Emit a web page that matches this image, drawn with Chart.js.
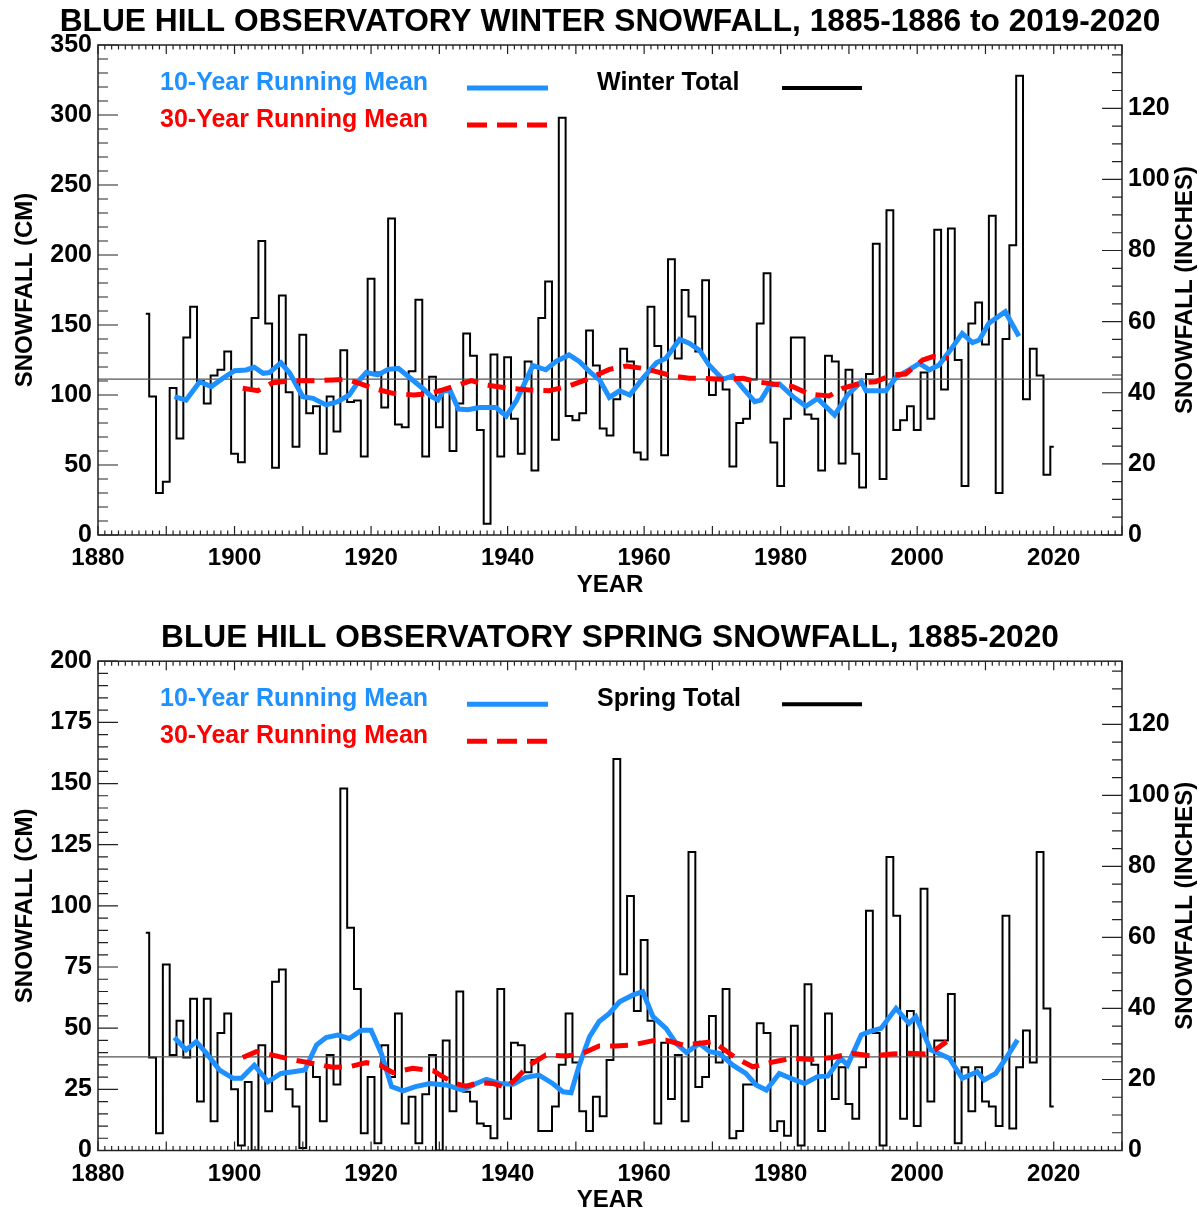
<!DOCTYPE html>
<html>
<head>
<meta charset="utf-8">
<script src="https://cdn.jsdelivr.net/npm/chart.js@4.4.0/dist/chart.umd.min.js"></script>
<style>
html,body{margin:0;padding:0;background:#fff;}
#wrap{position:relative;width:1200px;height:1213px;overflow:hidden;}
.panel{position:absolute;left:0;width:1220px;}
canvas{display:block;}
</style>
</head>
<body>
<div id="wrap">
  <div class="panel" style="top:0;height:600px"><canvas id="winterChart"></canvas></div>
  <div class="panel" style="top:600px;height:613px"><canvas id="springChart"></canvas></div>
</div>
<script>
// ---------------- DATA ----------------
const seasonYears = [
  1887,1888,1889,1890,1891,1892,1893,1894,1895,1896,
  1897,1898,1899,1900,1901,1902,1903,1904,1905,1906,
  1907,1908,1909,1910,1911,1912,1913,1914,1915,1916,
  1917,1918,1919,1920,1921,1922,1923,1924,1925,1926,
  1927,1928,1929,1930,1931,1932,1933,1934,1935,1936,
  1937,1938,1939,1940,1941,1942,1943,1944,1945,1946,
  1947,1948,1949,1950,1951,1952,1953,1954,1955,1956,
  1957,1958,1959,1960,1961,1962,1963,1964,1965,1966,
  1967,1968,1969,1970,1971,1972,1973,1974,1975,1976,
  1977,1978,1979,1980,1981,1982,1983,1984,1985,1986,
  1987,1988,1989,1990,1991,1992,1993,1994,1995,1996,
  1997,1998,1999,2000,2001,2002,2003,2004,2005,2006,
  2007,2008,2009,2010,2011,2012,2013,2014,2015,2016,
  2017,2018,2019,2020
];

// Winter totals (cm)
const winterCm = [
  158, 99, 30, 38,105, 69,141,163,110, 94,
  114,118,131, 58, 52,105,155,210,151, 48,
  171,102, 63,143, 87, 92, 58, 99, 74,132,
   95, 96, 56,183,116, 91,226, 79, 77,117,
  168, 56,113, 77,104, 60, 94,144,128, 75,
    8,129, 56,127, 83, 58,124, 46,155,181,
   68,298, 85, 82, 87,146,121, 76, 71, 97,
  133,124, 59, 54,163,135, 57,197,126,175,
  156,131,182,100,111,104, 49, 80, 83,111,
  151,187, 66, 35, 83,141,141, 86, 83, 46,
  128,124, 51,118, 58, 34,115,208, 40,232,
   75, 82, 92, 75,116, 83,218,104,219,125,
   35,151,166,136,228, 30,140,207,328, 97,
  133,114, 43, 63
];

// Spring totals (cm)
const springCm = [
   89, 38,  7, 76, 39, 53, 38, 62, 20, 62,
   12, 48, 56, 25,  2, 28,  0, 43, 16, 69,
   74, 25, 18,  1, 35, 30, 12, 39, 27,148,
   91, 66,  7, 30,  3, 43, 30, 56, 11, 22,
    3, 23, 39,  0, 45, 16, 65, 24, 20, 11,
   10,  5, 66, 13, 44, 43, 32, 37,  8,  8,
   18, 35, 56, 36, 16,  8, 22, 14, 37,160,
   72,104, 57, 86, 53, 11, 44, 21, 39, 12,
  122, 26, 30, 55, 36, 66,  5,  8, 27, 27,
   52, 48,  8, 12,  6, 51,  2, 68, 35,  8,
   56, 21, 34, 19, 13, 34, 98, 48,  2,120,
   96, 13, 57, 10,107, 20, 45, 45, 64,  3,
   34, 16, 34, 20, 18, 10, 96,  9, 34, 49,
   36,122, 58, 18
];

// 10-year running mean, winter
const winter10Years = [1891.2,1892.9,1894.9,1896.6,1898.3,1900.0,1901.7,1902.9,1904.2,1905.1,1906.8,1908.1,1910.0,1911.5,1913.4,1915.1,1916.8,1918.3,1919.3,1921.0,1922.5,1924.0,1925.5,1927.5,1928.8,1929.8,1930.6,1931.6,1932.8,1934.2,1935.9,1938.3,1939.8,1941.3,1943.7,1945.6,1947.1,1949.0,1950.5,1952.0,1953.5,1954.9,1956.4,1957.9,1959.8,1961.8,1963.2,1965.2,1966.6,1968.1,1969.5,1971.5,1973.0,1974.5,1976.2,1977.1,1978.4,1979.8,1981.8,1983.7,1985.4,1987.9,1989.8,1991.8,1992.5,1995.4,1996.9,1998.8,2000.3,2001.8,2003.2,2004.7,2006.6,2008.1,2009.1,2010.5,2012.9,2014.9];
const winter10Cm    = [98.8,96.4,109.5,106,112,117.4,117.9,119.8,115.5,116,123,115.5,98.8,97.6,92.9,95.2,100,110.7,116,114.3,118.3,119,113,105,99,96.4,103,103,90,89.5,91,91,85,96,121,118,124,128.6,124,116.7,110.7,98.3,103,100,111.9,123,126.2,139.8,137,132,121.4,111.2,113.6,104.8,95.2,96.4,107,108,98.8,92,97.6,85.7,100,109.5,103,103,112.6,118,122.6,118,121.4,131,144,137.4,139.3,151.2,159.5,142];

// 30-year running mean, winter
const winter30Years = [1901.2,1903.4,1905.6,1908.5,1911.5,1914.4,1916.4,1918.3,1920.3,1923.2,1926.3,1928.6,1930.5,1932.7,1934.7,1936.9,1940.3,1943.2,1946.1,1949.0,1952.0,1954.9,1957.4,1959.8,1961.8,1964.2,1966.6,1968.1,1971.5,1974.5,1976.4,1978.9,1981.8,1984.2,1987.1,1989.1,1992.0,1993.9,1996.4,1998.3,2000.8,2002.3,2004.6];
const winter30Cm    = [104.8,103.1,108.8,110.2,110.2,110.7,111.2,108.3,104.8,101.2,100,101.2,103.6,107.1,110.2,107.1,104.8,103.6,103.1,106.4,111.9,118.3,120.7,119,116.7,113.6,111.9,112,111.2,111.9,109.5,107.9,106,100.7,99.3,104.8,108.8,109.5,114.3,115,125,127.4,126.2];

// 10-year running mean, spring
const spring10Years = [1891.2,1892.9,1894.4,1895.9,1897.8,1899.8,1901.0,1902.9,1904.9,1906.8,1908.6,1910.3,1912.0,1913.4,1915.1,1916.8,1918.6,1920.0,1921.5,1923.0,1924.7,1926.5,1928.6,1931.0,1933.4,1935.4,1936.9,1938.8,1940.8,1942.7,1944.6,1946.6,1948.1,1949.3,1950.5,1952.0,1953.4,1954.9,1956.4,1958.3,1959.8,1961.3,1963.2,1964.7,1966.2,1968.1,1969.6,1971.0,1973.0,1974.9,1976.4,1977.9,1979.8,1981.5,1983.5,1985.4,1986.9,1988.8,1989.8,1991.8,1993.0,1994.7,1996.9,1998.8,1999.8,2002.0,2004.7,2006.6,2008.8,2009.8,2011.5,2013.0,2014.7];
const spring10Cm    = [46.2,41.1,44.5,39.7,32.9,29.5,29.5,34.9,28.1,31.5,32.2,32.9,43.1,46.2,47.2,45.8,49.2,49.2,39.7,26.1,24.4,26.1,27.4,26.8,24.7,27.4,29.1,27.4,27.1,29.9,30.8,27.4,24,23.6,34.9,46.5,52.7,56,60.8,63.5,64.9,54.7,49.9,43.8,40,43.8,40.4,39.7,34.9,31.5,26.8,24.7,31.5,29.5,27.4,30.2,30.4,37.7,34.9,47.2,48.6,49.9,58.1,52,54.7,41.1,37.7,29.5,32.2,28.8,31.5,37.7,45.2];

// 30-year running mean, spring
const spring30Years = [1901.2,1903.2,1905.6,1908.6,1911.5,1914.4,1916.8,1919.3,1921.3,1923.2,1926.1,1929.1,1930.5,1932.2,1933.9,1935.9,1937.8,1939.8,1941.3,1943.2,1945.6,1948.6,1951.0,1953.4,1955.8,1958.3,1961.3,1963.2,1965.7,1968.1,1970.1,1971.5,1973.5,1975.9,1977.9,1979.8,1981.7,1984.6,1987.6,1990.5,1993.4,1996.3,1998.8,2001.2,2002.6,2004.3];
const spring30Cm    = [38,40.4,39,37,35.6,34,34.2,35.9,34.9,31.8,33.6,32.6,30.2,27.4,26.3,27.7,27.4,25.8,29.5,34.9,39,38.6,39.7,42.7,42.7,43.1,44.9,45.1,43.1,43.8,44.5,41.7,37.7,34.2,35.6,36.7,37.7,37.2,38,39.7,38.6,39.4,39.7,39.4,41.1,44.5];

// long-term means (cm)
const winterMeanCm = 111.3;
const springMeanCm = 38.3;

// axis ticks
const yearRange = [1880, 2030];
const yearTickLabels = [1880, 1900, 1920, 1940, 1960, 1980, 2000, 2020];
const winterCmTicks = [0, 50, 100, 150, 200, 250, 300, 350];
const springCmTicks = [0, 25, 50, 75, 100, 125, 150, 175, 200];
const inchTicks = [0, 20, 40, 60, 80, 100, 120];
const CM_PER_INCH = 2.54;

// ---------------- STYLE ----------------
const FONT = "'Liberation Sans', Arial, Helvetica, sans-serif";
const BLUE = '#1e90ff';
const RED = '#ff0000';
Chart.defaults.font.family = FONT;
Chart.defaults.color = '#000';

function pts(xs, ys) { return xs.map((x, i) => ({ x: x, y: ys[i] })); }

const framePlugin = {
  id: 'frame',
  afterDraw(chart, args, o) {
    const { ctx, chartArea: a, scales } = chart;
    const sx = scales.x, sy = scales.y, sy2 = scales.y2;
    ctx.save();
    // frame
    ctx.strokeStyle = '#222';
    ctx.lineWidth = 1.5;
    ctx.strokeRect(a.left, a.top, a.right - a.left, a.bottom - a.top);
    // tick marks (inward)
    ctx.lineWidth = 1.2;
    ctx.beginPath();
    for (let v = yearRange[0]; v <= yearRange[1]; v += 1) {
      const px = sx.getPixelForValue(v);
      const len = (v % 10 === 0) ? 9 : 4.5;
      ctx.moveTo(px, a.bottom); ctx.lineTo(px, a.bottom - len);
      ctx.moveTo(px, a.top); ctx.lineTo(px, a.top + len);
    }
    for (let v = 0; v <= o.yMax; v += o.yMinor) {
      const py = sy.getPixelForValue(v);
      const len = (v % o.yMajor === 0) ? 20 : 10;
      ctx.moveTo(a.left, py); ctx.lineTo(a.left + len, py);
    }
    for (let v = 0; v <= sy2.max; v += 5) {
      const py = sy2.getPixelForValue(v);
      const len = (v % 20 === 0) ? 20 : 10;
      ctx.moveTo(a.right, py); ctx.lineTo(a.right - len, py);
    }
    ctx.stroke();

    // right axis title (reads bottom-to-top)
    ctx.save();
    ctx.translate(1185, (a.top + a.bottom) / 2);
    ctx.rotate(-Math.PI / 2);
    ctx.font = 'bold 24px ' + FONT;
    ctx.fillStyle = '#000';
    ctx.textAlign = 'center';
    ctx.textBaseline = 'middle';
    ctx.fillText('SNOWFALL (INCHES)', 0, 0);
    ctx.restore();

    // legend
    ctx.font = 'bold 25px ' + FONT;
    ctx.textAlign = 'left';
    ctx.textBaseline = 'middle';
    const tx = a.left + 62, r1 = a.top + 38, r2 = a.top + 75;
    ctx.fillStyle = BLUE; ctx.fillText('10-Year Running Mean', tx, r1);
    ctx.fillStyle = RED;  ctx.fillText('30-Year Running Mean', tx, r2);
    ctx.fillStyle = '#000'; ctx.fillText(o.totalLabel, a.left + 499, r1);
    ctx.lineCap = 'butt';
    ctx.lineWidth = 5;
    ctx.strokeStyle = BLUE;
    ctx.beginPath(); ctx.moveTo(a.left + 369, r1 + 5); ctx.lineTo(a.left + 450, r1 + 5); ctx.stroke();
    ctx.strokeStyle = RED;
    ctx.setLineDash([20, 10]);
    ctx.beginPath(); ctx.moveTo(a.left + 369, r2 + 5); ctx.lineTo(a.left + 450, r2 + 5); ctx.stroke();
    ctx.setLineDash([]);
    ctx.strokeStyle = '#000';
    ctx.lineWidth = 4;
    ctx.beginPath(); ctx.moveTo(a.left + 684, r1 + 5); ctx.lineTo(a.left + 764, r1 + 5); ctx.stroke();
    ctx.restore();
  }
};

function makeChart(id, cfg) {
  const tickFont = { family: FONT, size: 25, weight: 'bold' };
  const axisTitleFont = { family: FONT, size: 24, weight: 'bold', lineHeight: 1 };
  return new Chart(document.getElementById(id), {
    type: 'line',
    data: {
      datasets: [
        { label: '30-Year Running Mean', data: pts(cfg.m30x, cfg.m30y), borderColor: RED, borderWidth: 5,
          borderDash: [18, 10], pointRadius: 0, fill: false, tension: 0, yAxisID: 'y' },
        { label: '10-Year Running Mean', data: pts(cfg.m10x, cfg.m10y), borderColor: BLUE, borderWidth: 5,
          pointRadius: 0, fill: false, tension: 0, yAxisID: 'y' },
        { label: 'Mean', data: pts(yearRange, [cfg.mean, cfg.mean]), borderColor: '#555', borderWidth: 1.2,
          pointRadius: 0, fill: false, yAxisID: 'y' },
        { label: cfg.totalLabel, data: pts(seasonYears, cfg.values), borderColor: '#000', borderWidth: 2,
          stepped: 'middle', pointRadius: 0, fill: false, yAxisID: 'y' }
      ]
    },
    options: {
      responsive: true,
      maintainAspectRatio: false,
      animation: false,
      events: [],
      layout: { padding: { left: 0, right: 0, top: 0, bottom: cfg.padBottom } },
      plugins: {
        legend: { display: false },
        tooltip: { enabled: false },
        title: {
          display: true, text: cfg.title, fullSize: true, color: '#000',
          font: { family: FONT, size: 31.7, weight: 'bold', lineHeight: 1 },
          padding: { top: cfg.titleTop, bottom: cfg.titleBottom }
        },
        frame: { yMax: cfg.yMax, yMinor: cfg.yMinor, yMajor: cfg.yMajor, totalLabel: cfg.totalLabel }
      },
      scales: {
        x: {
          type: 'linear', position: 'bottom', min: yearRange[0], max: yearRange[1],
          grid: { display: false, drawTicks: false }, border: { display: false },
          ticks: { font: { family: FONT, size: 24, weight: 'bold' }, color: '#000', padding: 9,
                   maxRotation: 0, autoSkip: false, callback: v => String(v) },
          afterBuildTicks: s => { s.ticks = yearTickLabels.map(v => ({ value: v })); },
          afterFit: s => { s.height = 62; },
          title: { display: true, text: 'YEAR', color: '#000', font: axisTitleFont, padding: { top: 0, bottom: 0 } }
        },
        y: {
          type: 'linear', position: 'left', min: 0, max: cfg.yMax,
          grid: { display: false, drawTicks: false }, border: { display: false },
          ticks: { font: tickFont, color: '#000', padding: 6, callback: v => String(v) },
          afterBuildTicks: s => { s.ticks = cfg.yTicks.map(v => ({ value: v })); },
          afterFit: s => { s.width = 98; },
          title: { display: true, text: 'SNOWFALL (CM)', color: '#000', font: axisTitleFont, padding: { top: 13, bottom: 0 } }
        },
        y2: {
          type: 'linear', position: 'right', min: 0, max: cfg.yMaxAll / CM_PER_INCH,
          grid: { display: false, drawTicks: false }, border: { display: false },
          ticks: { font: tickFont, color: '#000', padding: 6, callback: v => String(v) },
          afterBuildTicks: s => { s.ticks = inchTicks.map(v => ({ value: v })); },
          afterFit: s => { s.width = 98; }
        }
      }
    },
    plugins: [framePlugin]
  });
}

makeChart('winterChart', {
  title: 'BLUE HILL OBSERVATORY WINTER SNOWFALL, 1885-1886 to 2019-2020',
  totalLabel: 'Winter Total',
  values: winterCm, m10x: winter10Years, m10y: winter10Cm, m30x: winter30Years, m30y: winter30Cm,
  mean: winterMeanCm, yMax: 350, yMaxAll: 350, yTicks: winterCmTicks, yMinor: 10, yMajor: 50,
  titleTop: 6.15, titleBottom: 7.15, padBottom: 3
});

makeChart('springChart', {
  title: 'BLUE HILL OBSERVATORY SPRING SNOWFALL, 1885-2020',
  totalLabel: 'Spring Total',
  values: springCm, m10x: spring10Years, m10y: spring10Cm, m30x: spring30Years, m30y: spring30Cm,
  mean: springMeanCm, yMax: 200, yMaxAll: 350, yTicks: springCmTicks, yMinor: 5, yMajor: 25,
  titleTop: 22.15, titleBottom: 7.35, padBottom: 0.5
});
</script>
</body>
</html>
